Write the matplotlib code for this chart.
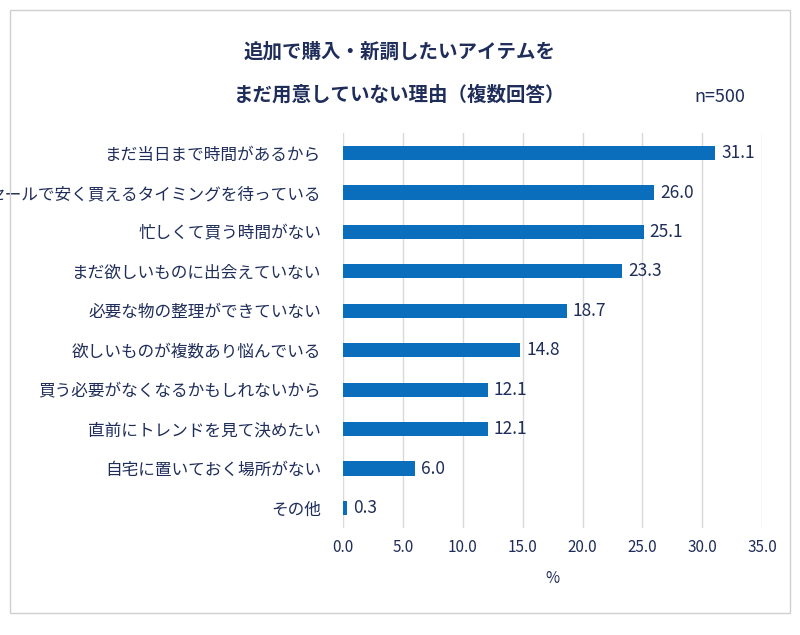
import matplotlib
matplotlib.use("Agg")
import matplotlib.pyplot as plt
from matplotlib.patches import Rectangle

plt.rcParams['font.family'] = ['Noto Sans CJK JP', 'DejaVu Sans']

labels = ["まだ当日まで時間があるから", "セールで安く買えるタイミングを待っている",
          "忙しくて買う時間がない", "まだ欲しいものに出会えていない",
          "必要な物の整理ができていない", "欲しいものが複数あり悩んでいる",
          "買う必要がなくなるかもしれないから", "直前にトレンドを見て決めたい",
          "自宅に置いておく場所がない", "その他"]
values = [31.1, 26.0, 25.1, 23.3, 18.7, 14.8, 12.1, 12.1, 6.0, 0.3]
ticks = [0, 5, 10, 15, 20, 25, 30, 35]

navy = "#1F2D5A"
blue = "#0A6EBD"

fig = plt.figure(figsize=(8, 6.35), dpi=100)
fig.patches.append(Rectangle((0.012, 0.035), 0.976, 0.95, transform=fig.transFigure,
                             fill=False, edgecolor="#D0D0D0", linewidth=1))
ax = fig.add_axes([0.429, 0.169, 0.5235, 0.621])
y = list(range(len(labels)))
ax.barh(y, values, height=0.36, color=blue, zorder=3)
for yi, v in zip(y, values):
    ax.text(v + 0.5, yi, f"{v:.1f}", va="center", ha="left", fontsize=12.5, color=navy)
ax.set_yticks(y)
ax.set_yticklabels(labels, fontsize=12, color=navy)
ax.set_ylim(len(labels) - 0.5, -0.5)
ax.set_xlim(0, 35)
ax.set_xticks(ticks)
ax.set_xticklabels([f"{t:.1f}" for t in ticks], fontsize=11, color=navy)
ax.tick_params(axis="y", length=0, pad=16)
ax.tick_params(axis="x", length=0, pad=8)
ax.xaxis.grid(True, color="#D9D9D9", linewidth=1, zorder=0)
for s in ax.spines.values():
    s.set_visible(False)
ax.set_xlabel("%", fontsize=11, color=navy, labelpad=10)

fig.text(0.5, 0.918, "追加で購入・新調したいアイテムを", ha="center", va="center",
         fontsize=14, fontweight="bold", color=navy)
fig.text(0.5, 0.85, "まだ用意していない理由（複数回答）", ha="center", va="center",
         fontsize=14, fontweight="bold", color=navy)
fig.text(0.9, 0.847, "n=500", ha="center", va="center", fontsize=13, color=navy)

fig.savefig("out.png", dpi=100)
